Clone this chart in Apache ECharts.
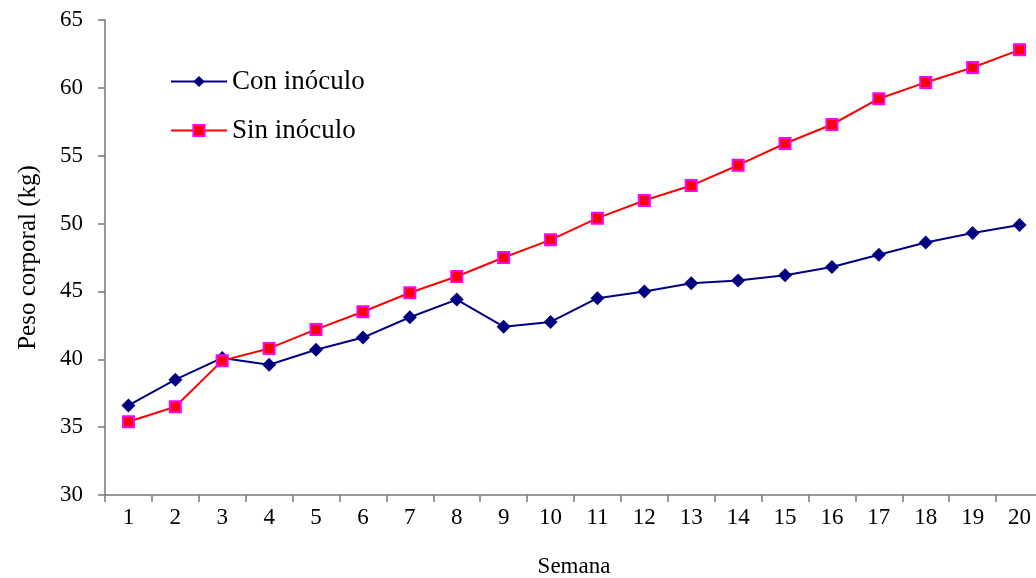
<!DOCTYPE html>
<html><head><meta charset="utf-8">
<script src="https://cdn.jsdelivr.net/npm/echarts@6/dist/echarts.min.js"></script>
<style>html,body{margin:0;padding:0;background:#fff}#c{width:1036px;height:578px}</style>
</head><body><div id="c"></div>
<script>
const semanas = ['1','2','3','4','5','6','7','8','9','10','11','12','13','14','15','16','17','18','19','20'];
const conInoculo = [36.6,38.5,40.1,39.6,40.7,41.6,43.1,44.4,42.4,42.75,44.5,45.0,45.6,45.8,46.2,46.8,47.7,48.6,49.3,49.9];
const sinInoculo = [35.4,36.5,39.9,40.8,42.2,43.5,44.9,46.1,47.5,48.8,50.4,51.7,52.8,54.3,55.9,57.3,59.2,60.4,61.5,62.8];
const font = 'Liberation Serif';
const axisCol = '#777';
const chart = echarts.init(document.getElementById('c'));
chart.setOption({
  animation:false,
  backgroundColor:'#fff',
  textStyle:{fontFamily:font},
  grid:{left:105, top:20, width:938, bottom:83, containLabel:false, outerBoundsMode:'none'},
  legend:{
    orient:'vertical', left:165, top:63, itemGap:22, itemWidth:56, itemHeight:14,
    textStyle:{fontFamily:font, fontSize:27, color:'#000'},
    data:['Con inóculo','Sin inóculo']
  },
  xAxis:{
    type:'category', data:semanas, boundaryGap:true,
    name:'Semana', nameLocation:'middle', nameGap:60,
    nameTextStyle:{fontFamily:font, fontSize:23, color:'#000'},
    axisLine:{lineStyle:{color:axisCol, width:1.5}},
    axisTick:{show:true, length:7, alignWithLabel:false, lineStyle:{color:axisCol, width:1.5}},
    axisLabel:{fontFamily:font, fontSize:23, color:'#000', margin:11, interval:0},
    splitLine:{show:false}
  },
  yAxis:{
    type:'value', min:30, max:65, interval:5,
    name:'Peso corporal (kg)', nameLocation:'middle', nameGap:64,
    nameTextStyle:{fontFamily:font, fontSize:25, color:'#000'},
    axisLine:{show:true, lineStyle:{color:axisCol, width:1.5}},
    axisTick:{show:true, length:7, lineStyle:{color:axisCol, width:1.5}},
    axisLabel:{fontFamily:font, fontSize:23, color:'#000', margin:22},
    splitLine:{show:false}
  },
  series:[
    {name:'Con inóculo', type:'line', data:conInoculo, symbol:'diamond', symbolSize:14,
     lineStyle:{color:'#000080', width:2}, itemStyle:{color:'#000080'}},
    {name:'Sin inóculo', type:'line', data:sinInoculo, symbol:'rect', symbolSize:11,
     lineStyle:{color:'#ff0000', width:2}, itemStyle:{color:'#ff0000', borderColor:'#ff00ff', borderWidth:2}}
  ]
});
</script></body></html>
